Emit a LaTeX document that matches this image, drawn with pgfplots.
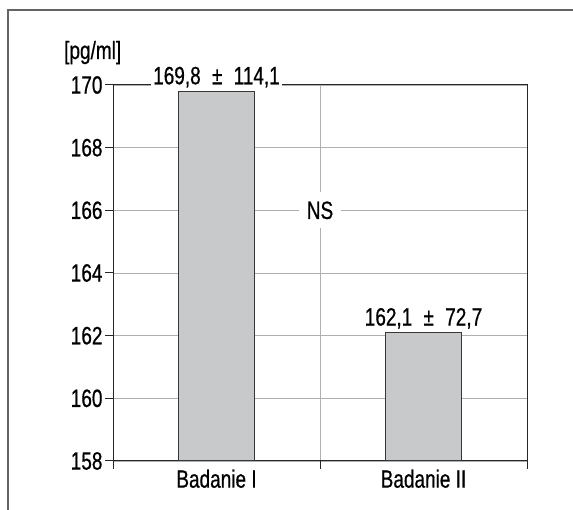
\documentclass[border=0pt]{standalone}
\usepackage{pgfplots}
\pgfplotsset{compat=1.18}
\usepackage{fontspec}
\setmainfont{Liberation Sans}[FakeStretch=0.76, FakeBold=0.6]
\newcommand\bigf{\fontsize{25}{29}\selectfont}
\definecolor{barfill}{RGB}{200,201,203}
\definecolor{bardraw}{RGB}{55,55,55}
\definecolor{gridgray}{RGB}{175,175,175}
\definecolor{framegray}{RGB}{100,100,100}
\begin{document}
\begin{tikzpicture}
\begin{axis}[name=ax, at={(113pt,49pt)}, anchor=south west,
  scale only axis, width=414pt, height=376pt,
  xmin=0, xmax=4, ymin=158, ymax=170,
  xtick={0,2,4}, xticklabels={},
  extra x ticks={1,3}, extra x tick labels={Badanie I,Badanie II},
  extra x tick style={major tick length=0pt, grid=none, tick label style={yshift=-5pt}},
  ytick={158,160,...,170},
  ymajorgrids, xmajorgrids,
  grid style={color=gridgray, line width=0.8pt},
  tick align=outside, tick pos=left, major tick length=8pt,
  axis line style={black!85, line width=1pt},
  tick style={black!85, line width=1pt},
  tick label style={font=\bigf},
  yticklabel style={xshift=1pt},
  /pgf/number format/assume math mode=true,
  clip=false,
]
\addplot[ybar, bar width=0.73, bar shift=0pt, fill=barfill, draw=bardraw, line width=1pt]
  coordinates {(1,169.8) (3,162.1)};
\coordinate (b1) at (axis cs:1,169.8);
\coordinate (b2) at (axis cs:3,162.1);
\coordinate (ns) at (axis cs:2,166);
\end{axis}
\node[fill=white, anchor=base, inner sep=2pt, font=\bigf, yshift=7pt] at (b1) {169,8\hspace{0.45em}±\hspace{0.45em}114,1};
\node[fill=white, anchor=base, inner sep=2pt, font=\bigf, yshift=7pt] at (b2) {162,1\hspace{0.45em}±\hspace{0.45em}72,7};
\node[fill=white, inner xsep=8pt, inner ysep=9pt, font=\bigf] at (ns) {NS};
\node[anchor=base west, inner sep=0pt, font=\bigf] at ([xshift=-49pt, yshift=26pt]ax.north west) {[pg/ml]};
\draw[framegray, line width=1.5pt] (8pt,0pt) -- (8pt,500pt) -- (573pt,500pt);
\pgfresetboundingbox
\path[use as bounding box] (0pt,0pt) rectangle (573pt,510pt);
\end{tikzpicture}
\end{document}
